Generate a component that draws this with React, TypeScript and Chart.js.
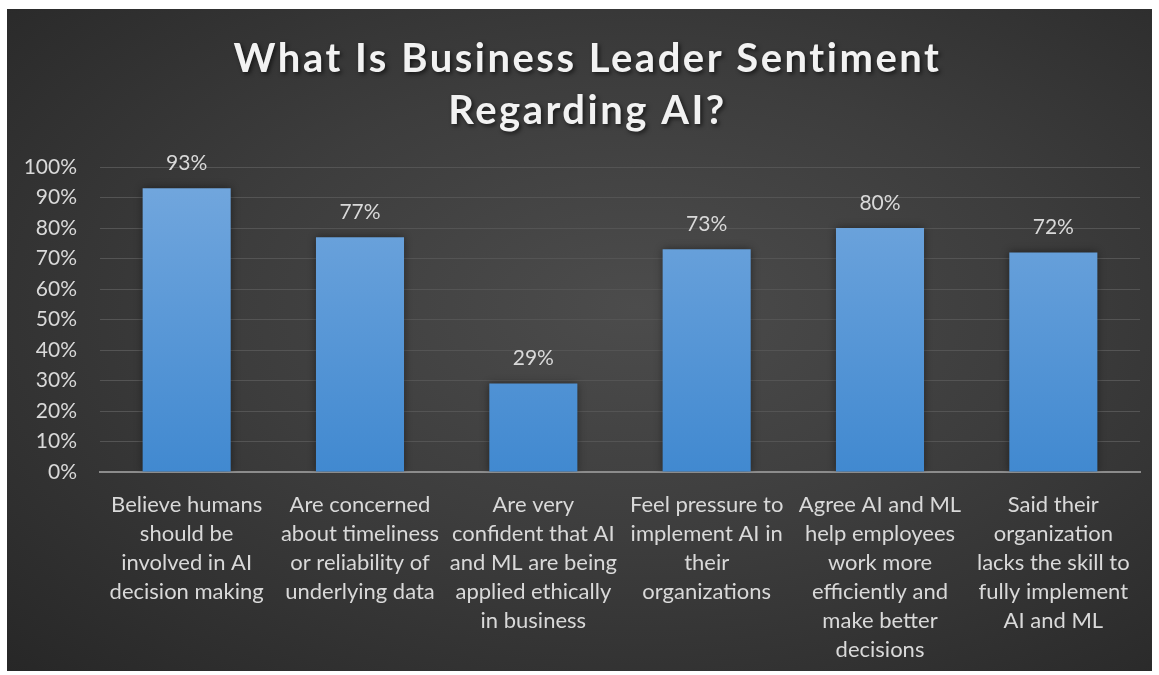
import React, { useEffect, useRef } from "react";
import { Chart, registerables } from "chart.js";

Chart.register(...registerables);

const titleLines = ["What Is Business Leader Sentiment", "Regarding AI?"];
const categories: string[][] = [
  ["Believe humans", "should be", "involved in AI", "decision making"],
  ["Are concerned", "about timeliness", "or reliability of", "underlying data"],
  ["Are very", "confident that AI", "and ML are being", "applied ethically", "in business"],
  ["Feel pressure to", "implement AI in", "their", "organizations"],
  ["Agree AI and ML", "help employees", "work more", "efficiently and", "make better", "decisions"],
  ["Said their", "organization", "lacks the skill to", "fully implement", "AI and ML"],
];
const values = [0.93, 0.77, 0.29, 0.73, 0.8, 0.72];
const yTicks = [0, 0.1, 0.2, 0.3, 0.4, 0.5, 0.6, 0.7, 0.8, 0.9, 1.0];

const FONT = "Lato, 'Open Sans', sans-serif";
const TEXT = "#d9d9d9";

const pct = (v: number) => `${Math.round(v * 100)}%`;

const titlePlugin = {
  id: "customTitle",
  afterDraw(chart: any) {
    const ctx = chart.ctx;
    ctx.save();
    ctx.font = `bold 40px ${FONT}`;
    (ctx as any).letterSpacing = "2.5px";
    ctx.fillStyle = "#f2f2f2";
    ctx.textAlign = "center";
    ctx.textBaseline = "middle";
    ctx.shadowColor = "rgba(0,0,0,0.6)";
    ctx.shadowBlur = 4;
    ctx.shadowOffsetX = 2;
    ctx.shadowOffsetY = 2;
    const cx = chart.width / 2 + 8;
    titleLines.forEach((t, i) => ctx.fillText(t, cx, 50 + i * 52));
    ctx.restore();
  },
};

const dataLabelPlugin = {
  id: "dataLabels",
  afterDatasetsDraw(chart: any) {
    const ctx = chart.ctx;
    const meta = chart.getDatasetMeta(0);
    ctx.save();
    ctx.font = `21px ${FONT}`;
    ctx.fillStyle = TEXT;
    ctx.textAlign = "center";
    ctx.textBaseline = "middle";
    meta.data.forEach((bar: any, i: number) => {
      ctx.fillText(pct(values[i]), bar.x, bar.y - 25);
    });
    ctx.restore();
  },
};

const shadowPlugin = {
  id: "barShadow",
  beforeDatasetsDraw(chart: any) {
    const ctx = chart.ctx;
    ctx.save();
    ctx.shadowColor = "rgba(0,0,0,0.45)";
    ctx.shadowBlur = 8;
    ctx.shadowOffsetX = 0;
    ctx.shadowOffsetY = 0;
  },
  afterDatasetsDraw(chart: any) {
    chart.ctx.restore();
  },
};

export default function App() {
  const ref = useRef<HTMLCanvasElement | null>(null);

  useEffect(() => {
    document.body.style.margin = "0";
    const canvas = ref.current;
    if (!canvas) return;
    const chart = new Chart(canvas, {
      type: "bar",
      data: {
        labels: categories,
        datasets: [
          {
            data: values,
            backgroundColor: (c: any) => {
              const area = c.chart.chartArea;
              if (!area) return "#5b9bd5";
              const g = c.chart.ctx.createLinearGradient(0, area.top, 0, area.bottom);
              g.addColorStop(0, "#74a8de");
              g.addColorStop(1, "#4189d0");
              return g;
            },
            borderWidth: 0,
            barPercentage: 0.508,
            categoryPercentage: 1,
          },
        ],
      },
      options: {
        animation: false,
        responsive: false,
        maintainAspectRatio: false,
        layout: { padding: { top: 158, right: 12, left: 0, bottom: 0 } },
        plugins: {
          legend: { display: false },
          title: { display: false },
          tooltip: { enabled: false },
        },
        scales: {
          x: {
            grid: { display: false },
            border: { display: true, color: "#8c8c8c", width: 2 },
            ticks: {
              color: TEXT,
              font: { family: FONT, size: 22, lineHeight: 1.32 },
              maxRotation: 0,
              minRotation: 0,
              autoSkip: false,
              padding: 10,
            },
            afterFit: (s: any) => {
              s.height = 662 - 463;
            },
          },
          y: {
            min: 0,
            max: 1,
            afterBuildTicks: (s: any) => {
              s.ticks = yTicks.map((v) => ({ value: v }));
            },
            afterFit: (s: any) => {
              s.width = 93;
            },
            grid: { color: "#545454", lineWidth: 1, drawTicks: false },
            border: { display: false },
            ticks: {
              color: TEXT,
              font: { family: FONT, size: 21 },
              padding: 23,
              callback: (v: any) => pct(Number(v)),
            },
          },
        },
      },
      plugins: [shadowPlugin, dataLabelPlugin, titlePlugin],
    });
    return () => chart.destroy();
  }, []);

  return (
    <div style={{ position: "relative", width: 1159, height: 675, background: "#ffffff" }}>
      <div
        style={{
          position: "absolute",
          left: 7,
          top: 9,
          width: 1145,
          height: 662,
          background:
            "radial-gradient(ellipse at 55% 45%, #4c4c4c 0%, #3d3d3d 45%, #272727 100%)",
        }}
      >
        <canvas ref={ref} width={1145} height={662} style={{ display: "block" }} />
      </div>
    </div>
  );
}
